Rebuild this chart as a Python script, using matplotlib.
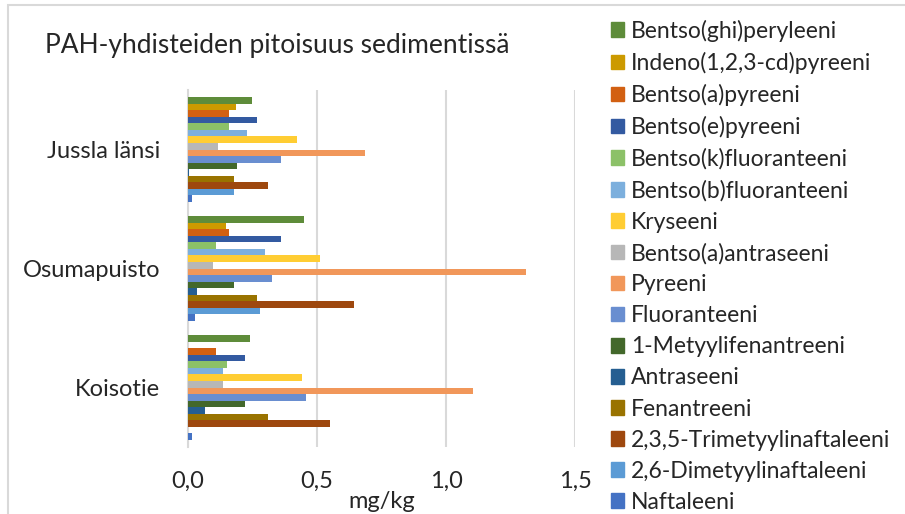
import numpy as np
import matplotlib.pyplot as plt
from matplotlib.patches import Patch, Rectangle

plt.rcParams['font.family'] = ['Lato', 'DejaVu Sans']
TXT = "#262626"

sites = ["Koisotie", "Osumapuisto", "Jussla länsi"]

# series from bottom of each group to top
compounds = [
    "Naftaleeni",
    "2,6-Dimetyylinaftaleeni",
    "2,3,5-Trimetyylinaftaleeni",
    "Fenantreeni",
    "Antraseeni",
    "1-Metyylifenantreeni",
    "Fluoranteeni",
    "Pyreeni",
    "Bentso(a)antraseeni",
    "Kryseeni",
    "Bentso(b)fluoranteeni",
    "Bentso(k)fluoranteeni",
    "Bentso(e)pyreeni",
    "Bentso(a)pyreeni",
    "Indeno(1,2,3-cd)pyreeni",
    "Bentso(ghi)peryleeni",
]

colors = [
    "#4472C4", "#5B9BD5", "#9E480E", "#997300", "#255E91", "#43682B",
    "#698ED0", "#F1975A", "#B7B7B7", "#FFCD33", "#7CAFDD", "#8CC168",
    "#335AA1", "#D26012", "#CC9A00", "#5E8C3A",
]

# values per compound: Koisotie, Osumapuisto, Jussla länsi (mg/kg)
naftaleeni = [0.017, 0.027, 0.017]
dimetyylinaftaleeni = [0.0, 0.28, 0.178]
trimetyylinaftaleeni = [0.552, 0.642, 0.309]
fenantreeni = [0.309, 0.267, 0.178]
antraseeni = [0.065, 0.036, 0.005]
metyylifenantreeni = [0.22, 0.177, 0.188]
fluoranteeni = [0.458, 0.327, 0.361]
pyreeni = [1.105, 1.311, 0.685]
bentso_a_antraseeni = [0.135, 0.098, 0.117]
kryseeni = [0.44, 0.51, 0.422]
bentso_b_fluoranteeni = [0.135, 0.30, 0.229]
bentso_k_fluoranteeni = [0.15, 0.107, 0.159]
bentso_e_pyreeni = [0.22, 0.361, 0.267]
bentso_a_pyreeni = [0.107, 0.159, 0.159]
indeno_pyreeni = [0.0, 0.148, 0.1875]
bentso_ghi_peryleeni = [0.24, 0.45, 0.249]

values = [
    naftaleeni, dimetyylinaftaleeni, trimetyylinaftaleeni, fenantreeni,
    antraseeni, metyylifenantreeni, fluoranteeni, pyreeni,
    bentso_a_antraseeni, kryseeni, bentso_b_fluoranteeni,
    bentso_k_fluoranteeni, bentso_e_pyreeni, bentso_a_pyreeni,
    indeno_pyreeni, bentso_ghi_peryleeni,
]

fig = plt.figure(figsize=(9.05, 5.14), dpi=100)
fig.patches.append(Rectangle((8 / 905, -0.1), 1.2, 1 - 5 / 514 + 0.1,
                             transform=fig.transFigure, fill=False,
                             edgecolor="#D9D9D9", linewidth=1.5))
ax = fig.add_axes([188 / 905, 1 - 447 / 514, (575 - 188) / 905, 357 / 514])

n = len(compounds)
h = 0.875 / n
y = np.arange(len(sites))
for i, (name, vals, c) in enumerate(zip(compounds, values, colors)):
    ax.barh(y + (i - (n - 1) / 2) * h, vals, height=h, color=c,
            label=name, zorder=3)

ax.set_xlim(0, 1.5)
ax.set_ylim(-0.5, 2.5)
ax.set_xticks([0, 0.5, 1.0, 1.5])
ax.set_xticklabels(["0,0", "0,5", "1,0", "1,5"], fontsize=17, color=TXT)
ax.set_yticks(y)
ax.set_yticklabels(sites, fontsize=17, color=TXT)
ax.tick_params(axis="y", length=0, pad=20)
ax.tick_params(axis="x", length=0, pad=17)
ax.grid(axis="x", color="#D9D9D9", linewidth=1.5, zorder=0)
for s in ["top", "right", "bottom"]:
    ax.spines[s].set_visible(False)
ax.spines["left"].set_color("#D9D9D9")
ax.spines["left"].set_linewidth(1.5)
ax.set_xlabel("mg/kg", fontsize=17, color=TXT)
ax.xaxis.set_label_coords((382 - 188) / (575 - 188), -(502 - 447) / 357)
ax.xaxis.label.set_va("center")

fig.text(277 / 905, 1 - 45 / 514, "PAH-yhdisteiden pitoisuus sedimentissä",
         ha="center", va="center", fontsize=19, color=TXT)

handles = [Patch(color=c) for c in colors][::-1]
fig.legend(handles, compounds[::-1], loc="upper left",
           bbox_to_anchor=(590 / 905, 1 + 1 / 514), frameon=False,
           fontsize=16.5, handlelength=0.6, handleheight=0.6,
           handletextpad=0.3, labelspacing=0.44, labelcolor=TXT)

fig.savefig("out.png", dpi=100)
